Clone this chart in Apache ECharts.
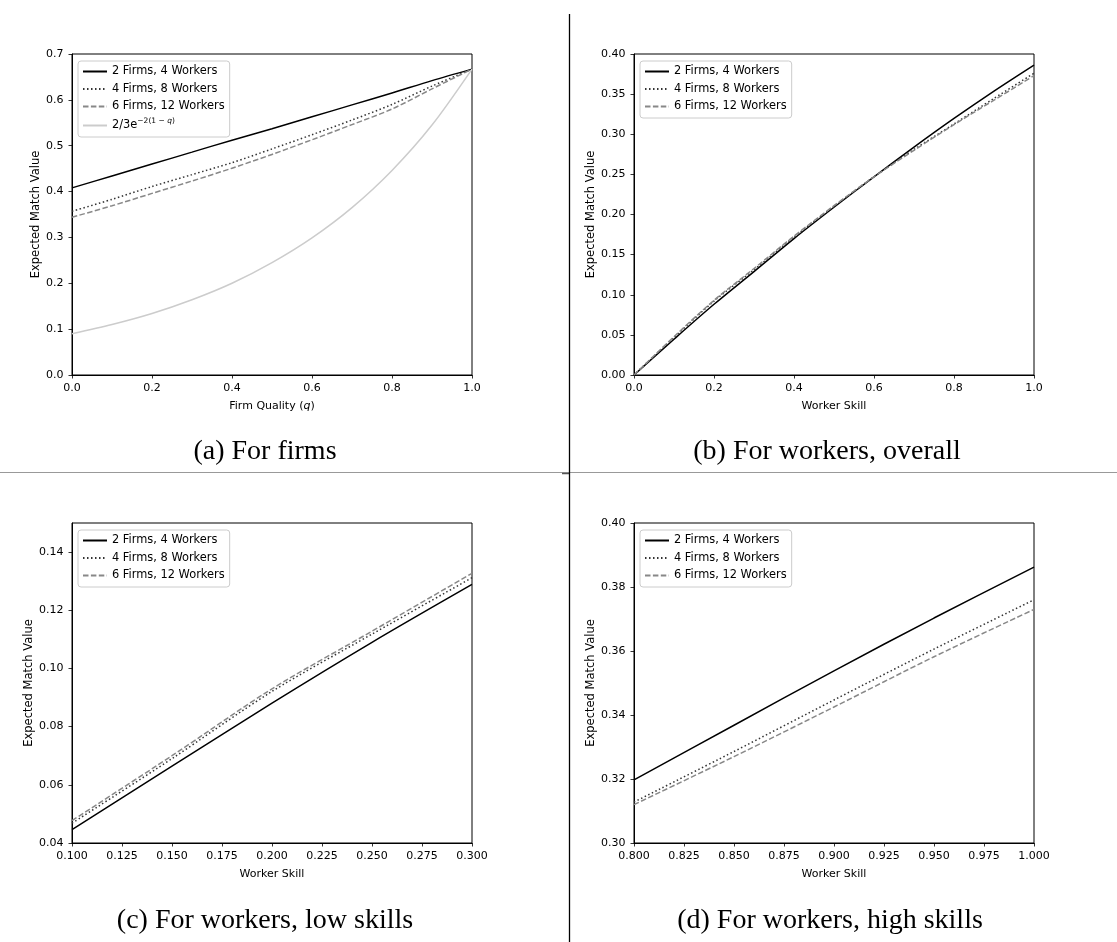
<!DOCTYPE html>
<html>
<head>
<meta charset="utf-8">
<script src="https://cdn.jsdelivr.net/npm/echarts@6/dist/echarts.min.js"></script>
<style>
  html, body { margin: 0; padding: 0; background: #fff; }
  #chart { width: 1117px; height: 942px; }
</style>
</head>
<body>
<div id="chart"></div>
<script>
  // series names
  const nameTwo = '2 Firms, 4 Workers';
  const nameFour = '4 Firms, 8 Workers';
  const nameSix = '6 Firms, 12 Workers';
  const nameBound = '2/3e^{-2(1-q)}';

  // (a) for firms
  const firmQuality = [0, 0.1, 0.2, 0.3, 0.4, 0.5, 0.6, 0.7, 0.8, 0.9, 1.0];
  const firmTwo = [0.408, 0.434, 0.460, 0.486, 0.512, 0.537, 0.563, 0.589, 0.615, 0.642, 0.667];
  const firmFour = [0.357, 0.383, 0.411, 0.437, 0.463, 0.493, 0.524, 0.556, 0.590, 0.630, 0.667];
  const firmSix = [0.344, 0.369, 0.396, 0.423, 0.451, 0.481, 0.513, 0.546, 0.580, 0.624, 0.667];
  const firmBound = [0.090, 0.110, 0.134, 0.164, 0.200, 0.245, 0.299, 0.365, 0.446, 0.545, 0.667];

  // (b) for workers, overall
  const skillAll = [0, 0.1, 0.2, 0.3, 0.4, 0.5, 0.6, 0.7, 0.8, 0.9, 1.0];
  const allTwo = [0, 0.0446, 0.0881, 0.1289, 0.170, 0.209, 0.247, 0.284, 0.3197, 0.3538, 0.3862];
  const allFour = [0, 0.0468, 0.0921, 0.1312, 0.172, 0.210, 0.247, 0.281, 0.3128, 0.3447, 0.3760];
  const allSix = [0, 0.0477, 0.0930, 0.1327, 0.173, 0.211, 0.247, 0.280, 0.3120, 0.3425, 0.3730];

  // (c) for workers, low skills
  const skillLow = [0.1, 0.15, 0.2, 0.25, 0.3];
  const lowTwo = [0.0446, 0.0664, 0.0881, 0.1090, 0.1289];
  const lowFour = [0.0468, 0.0690, 0.0921, 0.1118, 0.1312];
  const lowSix = [0.0477, 0.0700, 0.0930, 0.1128, 0.1327];

  // (d) for workers, high skills
  const skillHigh = [0.8, 0.85, 0.9, 0.95, 1.0];
  const highTwo = [0.3197, 0.3368, 0.3538, 0.3703, 0.3862];
  const highFour = [0.3128, 0.3286, 0.3447, 0.3606, 0.3760];
  const highSix = [0.3120, 0.3270, 0.3425, 0.3582, 0.3730];

  // tick labels
  const firmXTicks = [0, 0.2, 0.4, 0.6, 0.8, 1.0];
  const firmYTicks = [0, 0.1, 0.2, 0.3, 0.4, 0.5, 0.6, 0.7];
  const allXTicks = [0, 0.2, 0.4, 0.6, 0.8, 1.0];
  const allYTicks = [0, 0.05, 0.10, 0.15, 0.20, 0.25, 0.30, 0.35, 0.40];
  const lowXTicks = [0.1, 0.125, 0.15, 0.175, 0.2, 0.225, 0.25, 0.275, 0.3];
  const lowYTicks = [0.04, 0.06, 0.08, 0.10, 0.12, 0.14];
  const highXTicks = [0.8, 0.825, 0.85, 0.875, 0.9, 0.925, 0.95, 0.975, 1.0];
  const highYTicks = [0.30, 0.32, 0.34, 0.36, 0.38, 0.40];

  const captions = [
    '(a) For firms',
    '(b) For workers, overall',
    '(c) For workers, low skills',
    '(d) For workers, high skills',
  ];

  const sans = 'DejaVu Sans';
  const zip = (xs, ys) => xs.map((x, i) => [x, ys[i]]);

  const styles = {
    [nameTwo]: { color: '#000000', width: 1.5, type: 'solid' },
    [nameFour]: { color: '#333333', width: 1.5, type: [1.5, 2.5] },
    [nameSix]: { color: '#888888', width: 1.5, type: [5.5, 2.4] },
    [nameBound]: { color: '#cccccc', width: 1.5, type: 'solid' },
  };

  const lineSeries = (name, gi, xs, ys) => ({
    name,
    type: 'line',
    xAxisIndex: gi,
    yAxisIndex: gi,
    data: zip(xs, ys),
    symbol: 'none',
    smooth: 0.3,
    silent: true,
    lineStyle: styles[name],
    itemStyle: { color: styles[name].color },
  });

  const grids = [
    { left: 72, top: 54, width: 400, height: 321 },
    { left: 634, top: 54, width: 400, height: 321 },
    { left: 72, top: 523, width: 400, height: 320 },
    { left: 634, top: 523, width: 400, height: 320 },
  ];

  const tickStyle = ticks => ({
    show: true, inside: false, length: 3.5, lineStyle: { color: '#000', width: 0.8 }, customValues: ticks,
  });

  const xAxisFor = (gi, min, max, ticks, digits, name) => ({
    type: 'value',
    gridIndex: gi,
    min,
    max,
    name,
    nameLocation: 'middle',
    nameGap: 26,
    nameTextStyle: {
      fontFamily: sans, fontSize: 11, color: '#000',
      rich: { i: { fontFamily: sans, fontSize: 11, fontStyle: 'italic', color: '#000' } },
    },
    splitLine: { show: false },
    axisLine: { show: true, onZero: false, lineStyle: { color: '#000', width: 1 } },
    axisTick: tickStyle(ticks),
    axisLabel: {
      customValues: ticks,
      formatter: v => Number(v).toFixed(digits),
      margin: 8,
      fontFamily: sans,
      fontSize: 11,
      color: '#000',
    },
  });

  const yAxisFor = (gi, min, max, ticks, digits, gap) => ({
    type: 'value',
    gridIndex: gi,
    min,
    max,
    name: 'Expected Match Value',
    nameLocation: 'middle',
    nameGap: gap,
    nameTextStyle: { fontFamily: sans, fontSize: 11.5, color: '#000' },
    splitLine: { show: false },
    axisLine: { show: true, onZero: false, lineStyle: { color: '#000', width: 1 } },
    axisTick: tickStyle(ticks),
    axisLabel: {
      customValues: ticks,
      formatter: v => Number(v).toFixed(digits),
      margin: 8.5,
      fontFamily: sans,
      fontSize: 11,
      color: '#000',
    },
  });

  const legendFor = (left, top, names) => ({
    left,
    top,
    orient: 'vertical',
    data: names,
    selectedMode: false,
    backgroundColor: '#fff',
    borderColor: '#cccccc',
    borderWidth: 1,
    borderRadius: 3,
    padding: [4, 5, 5, 4],
    itemWidth: 24,
    itemHeight: 10,
    itemGap: 4.5,
    itemStyle: { opacity: 0 },
    textStyle: {
      fontFamily: sans,
      fontSize: 11.4,
      lineHeight: 13,
      color: '#000',
      rich: {
        s: { fontFamily: sans, fontSize: 7.5, color: '#000', padding: [0, 0, 8, 0] },
        si: { fontFamily: sans, fontSize: 7.5, fontStyle: 'italic', color: '#000', padding: [0, 0, 8, 0] },
      },
    },
    formatter: (name) => (name === nameBound ? '2/3e{s|−2(1 − }{si|q}{s|)}' : name),
  });

  const captionText = (text, x, y) => ({
    type: 'text',
    x,
    y,
    silent: true,
    style: {
      text,
      fill: '#000',
      font: '28px "Liberation Serif"',
      textAlign: 'center',
      textVerticalAlign: 'middle',
    },
  });

  const chart = echarts.init(document.getElementById('chart'), null, { renderer: 'canvas' });
  chart.setOption({
    backgroundColor: '#fff',
    animation: false,
    grid: grids.map(g => ({ ...g, show: true, borderColor: '#000', borderWidth: 1, backgroundColor: 'transparent' })),
    xAxis: [
      xAxisFor(0, 0, 1, firmXTicks, 1, 'Firm Quality ({i|q})'),
      xAxisFor(1, 0, 1, allXTicks, 1, 'Worker Skill'),
      xAxisFor(2, 0.1, 0.3, lowXTicks, 3, 'Worker Skill'),
      xAxisFor(3, 0.8, 1.0, highXTicks, 3, 'Worker Skill'),
    ],
    yAxis: [
      yAxisFor(0, 0, 0.7, firmYTicks, 1, 30),
      yAxisFor(1, 0, 0.4, allYTicks, 2, 37),
      yAxisFor(2, 0.04, 0.15, lowYTicks, 2, 37),
      yAxisFor(3, 0.30, 0.40, highYTicks, 2, 37),
    ],
    legend: [
      legendFor(78, 61, [nameTwo, nameFour, nameSix, nameBound]),
      legendFor(640, 61, [nameTwo, nameFour, nameSix]),
      legendFor(78, 530, [nameTwo, nameFour, nameSix]),
      legendFor(640, 530, [nameTwo, nameFour, nameSix]),
    ],
    series: [
      lineSeries(nameTwo, 0, firmQuality, firmTwo),
      lineSeries(nameFour, 0, firmQuality, firmFour),
      lineSeries(nameSix, 0, firmQuality, firmSix),
      lineSeries(nameBound, 0, firmQuality, firmBound),
      lineSeries(nameTwo, 1, skillAll, allTwo),
      lineSeries(nameFour, 1, skillAll, allFour),
      lineSeries(nameSix, 1, skillAll, allSix),
      lineSeries(nameTwo, 2, skillLow, lowTwo),
      lineSeries(nameFour, 2, skillLow, lowFour),
      lineSeries(nameSix, 2, skillLow, lowSix),
      lineSeries(nameTwo, 3, skillHigh, highTwo),
      lineSeries(nameFour, 3, skillHigh, highFour),
      lineSeries(nameSix, 3, skillHigh, highSix),
    ],
    graphic: [
      {
        type: 'line', silent: true,
        shape: { x1: 0, y1: 472.5, x2: 1117, y2: 472.5 },
        style: { stroke: '#999999', lineWidth: 1.2 },
      },
      {
        type: 'line', silent: true,
        shape: { x1: 562, y1: 473.5, x2: 569, y2: 473.5 },
        style: { stroke: '#555555', lineWidth: 1.5 },
      },
      {
        type: 'line', silent: true,
        shape: { x1: 569.5, y1: 14, x2: 569.5, y2: 942 },
        style: { stroke: '#000000', lineWidth: 1.3 },
      },
      captionText(captions[0], 265, 452),
      captionText(captions[1], 827, 452),
      captionText(captions[2], 265, 921),
      captionText(captions[3], 830, 921),
    ],
  });
</script>
</body>
</html>
